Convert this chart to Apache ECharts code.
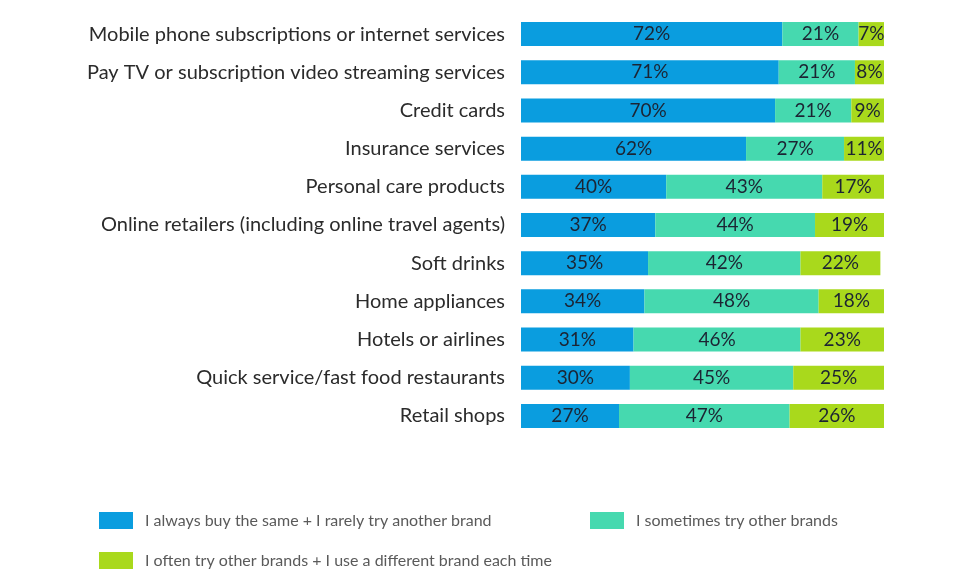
<!DOCTYPE html>
<html><head><meta charset="utf-8">
<script src="https://cdn.jsdelivr.net/npm/echarts@6/dist/echarts.min.js"></script>
<style>html,body{margin:0;padding:0;background:#fff}#c{width:974px;height:583px}</style>
</head><body><div id="c"></div>
<script>
const categories = [
  "Mobile phone subscriptions or internet services",
  "Pay TV or subscription video streaming services",
  "Credit cards",
  "Insurance services",
  "Personal care products",
  "Online retailers (including online travel agents)",
  "Soft drinks",
  "Home appliances",
  "Hotels or airlines",
  "Quick service/fast food restaurants",
  "Retail shops"
];
const seriesNames = [
  "I always buy the same + I rarely try another brand",
  "I sometimes try other brands",
  "I often try other brands + I use a different brand each time"
];
const alwaysSame = [72, 71, 70, 62, 40, 37, 35, 34, 31, 30, 27];
const sometimes = [21, 21, 21, 27, 43, 44, 42, 48, 46, 45, 47];
const often = [7, 8, 9, 11, 17, 19, 22, 18, 23, 25, 26];
const colors = ["#0a9ddf", "#46d9af", "#a9d91c"];

const chart = echarts.init(document.getElementById('c'));
const font = 'Lato, "Open Sans", sans-serif';
function mk(i, data) {
  return {
    name: seriesNames[i], type: 'bar', stack: 'all', data: data, barWidth: 24,
    itemStyle: { color: colors[i] },
    label: { show: true, position: 'inside', formatter: '{c}%', color: '#1c2433', fontSize: 19, fontFamily: font },
    emphasis: { disabled: true }
  };
}
function lg(i, left, top) {
  return {
    data: [seriesNames[i]], left: left, top: top, itemWidth: 34, itemHeight: 17,
    icon: 'rect', itemGap: 12,
    textStyle: { color: '#5a5a5a', fontSize: 16, fontFamily: font, padding: [0, 0, 0, 7] }
  };
}
chart.setOption({
  animation: false,
  grid: { left: 521, top: 15, width: 363, height: 420, containLabel: false },
  xAxis: { type: 'value', min: 0, max: 100, show: false },
  yAxis: {
    type: 'category', data: categories, inverse: true,
    axisLine: { show: false }, axisTick: { show: false },
    axisLabel: { color: '#2b2b2b', fontSize: 20, fontFamily: font, margin: 16 }
  },
  legend: [lg(0, 94, 507), lg(1, 585, 507), lg(2, 94, 547)],
  series: [mk(0, alwaysSame), mk(1, sometimes), mk(2, often)]
});
</script></body></html>
